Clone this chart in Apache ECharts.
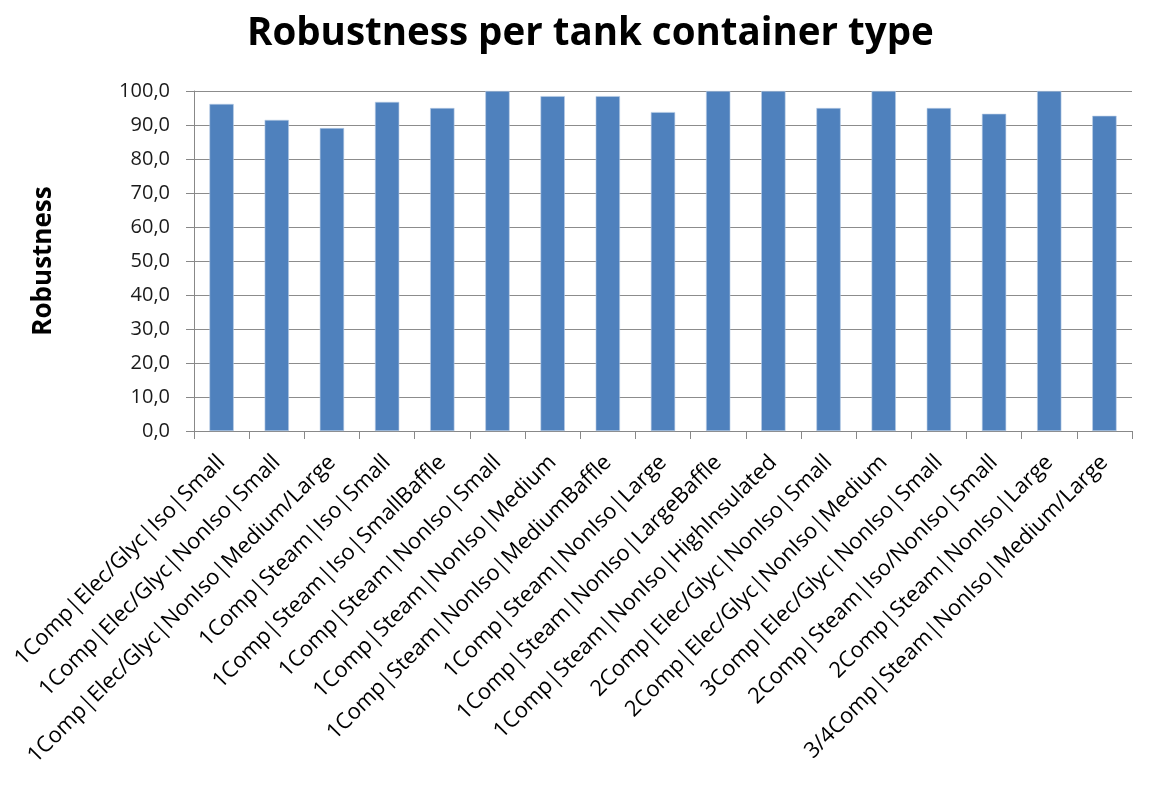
<!DOCTYPE html>
<html>
<head>
<meta charset="utf-8">
<script src="https://cdn.jsdelivr.net/npm/echarts@6/dist/echarts.min.js"></script>
<style>
  html, body { margin: 0; padding: 0; background: #fff; }
  #chart { width: 1153px; height: 787px; }
</style>
</head>
<body>
<div id="chart"></div>
<script>
var categories = [
    '1Comp|Elec/Glyc|Iso|Small',
    '1Comp|Elec/Glyc|NonIso|Small',
    '1Comp|Elec/Glyc|NonIso|Medium/Large',
    '1Comp|Steam|Iso|Small',
    '1Comp|Steam|Iso|SmallBaffle',
    '1Comp|Steam|NonIso|Small',
    '1Comp|Steam|NonIso|Medium',
    '1Comp|Steam|NonIso|MediumBaffle',
    '1Comp|Steam|NonIso|Large',
    '1Comp|Steam|NonIso|LargeBaffle',
    '1Comp|Steam|NonIso|HighInsulated',
    '2Comp|Elec/Glyc|NonIso|Small',
    '2Comp|Elec/Glyc|NonIso|Medium',
    '3Comp|Elec/Glyc|NonIso|Small',
    '2Comp|Steam|Iso/NonIso|Small',
    '2Comp|Steam|NonIso|Large',
    '3/4Comp|Steam|NonIso|Medium/Large'
];
var robustness = [96.2, 91.5, 89.1, 96.8, 95.0, 100, 98.5, 98.5, 93.8, 100, 100, 95.0, 100, 95.0, 93.3, 100, 92.7];

var myChart = echarts.init(document.getElementById('chart'));

var option = {
    backgroundColor: '#fff',
    animation: false,
    title: {
        text: 'Robustness per tank container type',
        left: 242,
        top: 10,
        textStyle: {
            fontFamily: 'Open Sans',
            fontSize: 38.5,
            fontWeight: 'bold',
            color: '#000'
        }
    },
    grid: {
        left: 194,
        right: 21,
        top: 91,
        bottom: 356
    },
    xAxis: {
        type: 'category',
        data: categories,
        axisLine: { lineStyle: { color: '#888', width: 1 } },
        axisTick: { show: true, length: 8, lineStyle: { color: '#888' } },
        axisLabel: {
            interval: 0,
            rotate: 45,
            margin: 28,
            color: '#000',
            fontFamily: 'Open Sans',
            fontSize: 22
        }
    },
    yAxis: {
        type: 'value',
        min: 0,
        max: 100,
        interval: 10,
        name: 'Robustness',
        nameLocation: 'middle',
        nameGap: 137,
        nameRotate: 90,
        nameTextStyle: {
            fontFamily: 'Open Sans',
            fontSize: 26,
            fontWeight: 'bold',
            color: '#000'
        },
        axisLine: { show: true, lineStyle: { color: '#888' } },
        axisTick: { show: true, length: 8, lineStyle: { color: '#888' } },
        splitLine: { lineStyle: { color: '#8c8c8c', width: 1 } },
        axisLabel: {
            margin: 24,
            color: '#1a1a1a',
            fontFamily: 'Open Sans',
            fontSize: 20,
            formatter: function (v) { return v.toFixed(1).replace('.', ','); }
        }
    },
    series: [{
        name: 'Robustness',
        type: 'bar',
        data: robustness,
        barWidth: '44%',
        itemStyle: {
            color: '#4f81bd',
            borderColor: '#b9cde5',
            borderWidth: 0.6
        }
    }]
};

myChart.setOption(option);
</script>
</body>
</html>
